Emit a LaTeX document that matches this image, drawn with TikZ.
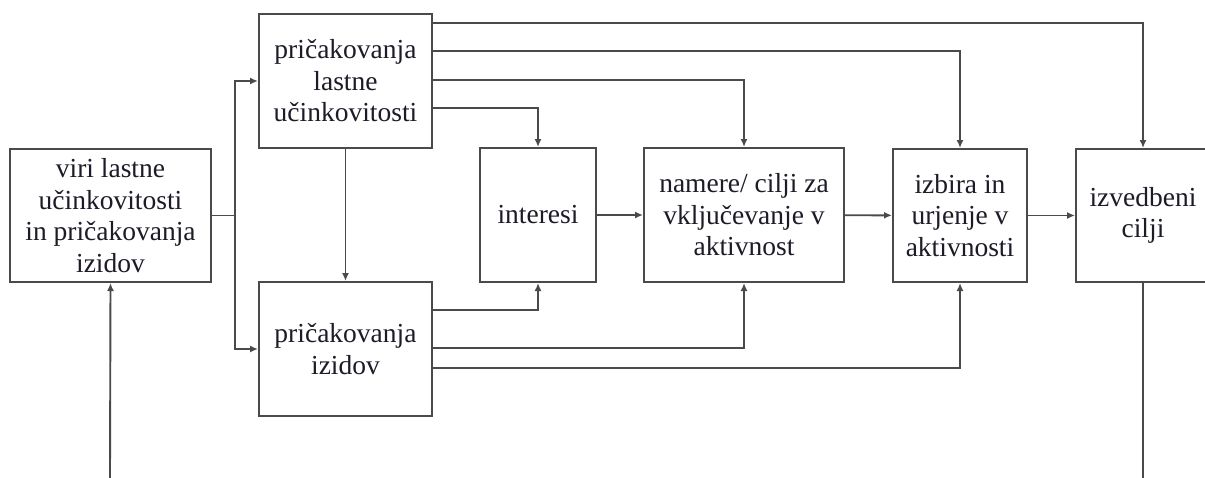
\documentclass[tikz,border=0pt]{standalone}
\usepackage{fontspec}
\setmainfont{Liberation Serif}
\usetikzlibrary{arrows.meta}
\definecolor{linegray}{HTML}{4A4A4A}
\definecolor{inkdark}{HTML}{1C1C28}
\begin{document}
\begin{tikzpicture}[x=1pt,y=-1pt,
  box/.style={draw=linegray,line width=2pt,fill=white,align=center,
    inner sep=0pt,text=inkdark,
    font=\fontsize{27.5}{31.5}\selectfont},
  wire/.style={draw=linegray,line width=1.9pt},
  arr/.style={wire,-{Latex[length=8pt,width=7pt]}}]
  \useasboundingbox (0,0) rectangle (1205,477);
  \clip (0,0) rectangle (1205,477);
  \fill[white] (0,0) rectangle (1205,477);

  % boxes
  \node[box,minimum width=201pt,minimum height=133pt] (src) at (110.5,215.5)
    {viri lastne\\u\v{c}inkovitosti\\in pri\v{c}akovanja\\izidov};
  \node[box,minimum width=173pt,minimum height=134pt] (self) at (345.5,81)
    {pri\v{c}akovanja\\lastne\\u\v{c}inkovitosti};
  \node[box,minimum width=173pt,minimum height=134pt] (outc) at (345.5,349)
    {pri\v{c}akovanja\\izidov};
  \node[box,minimum width=116pt,minimum height=134pt] (intr) at (538,215)
    {interesi};
  \node[box,minimum width=200pt,minimum height=134pt] (goal) at (744,215)
    {namere/ cilji za\\vklju\v{c}evanje v\\aktivnost};
  \node[box,minimum width=134pt,minimum height=133pt] (choice) at (960,215.5)
    {izbira in\\urjenje v\\aktivnosti};
  \node[box,minimum width=134pt,minimum height=133pt] (perf) at (1143,215.5)
    {izvedbeni\\cilji};

  % levels of the horizontal runs
  \coordinate (r1) at (0,23);
  \coordinate (r2) at (0,51);
  \coordinate (r3) at (0,80);
  \coordinate (r4) at (0,108);
  \coordinate (q1) at (0,310);
  \coordinate (q2) at (0,348);
  \coordinate (q3) at (0,368);

  % free ends at the lower edge
  \coordinate (fbin) at (110,478);
  \coordinate (fbout) at (1143,478);
  \coordinate (split) at (235,215.5);

  % sources feed both expectations
  \draw[wire] (src.east) -- (split);
  \draw[arr] (split) |- (self.west);
  \draw[arr] (split) |- (outc.west);
  \draw[arr] (self.south) -- (outc.north);

  % self-efficacy expectations
  \draw[arr] (self.east |- r1) -| (perf.north);
  \draw[arr] (self.east |- r2) -| (choice.north);
  \draw[arr] (self.east |- r3) -| (goal.north);
  \draw[arr] (self.east |- r4) -| (intr.north);

  % outcome expectations
  \draw[arr] (outc.east |- q1) -| (intr.south);
  \draw[arr] (outc.east |- q2) -| (goal.south);
  \draw[arr] (outc.east |- q3) -| (choice.south);

  % main chain
  \draw[arr] (intr) -- (goal);
  \draw[arr] (goal) -- (choice);
  \draw[arr] (choice) -- (perf);

  % feedback loop ends
  \draw[arr] (fbin) -- (src.south);
  \draw[wire] (perf.south) -- (fbout);
\end{tikzpicture}
\end{document}
